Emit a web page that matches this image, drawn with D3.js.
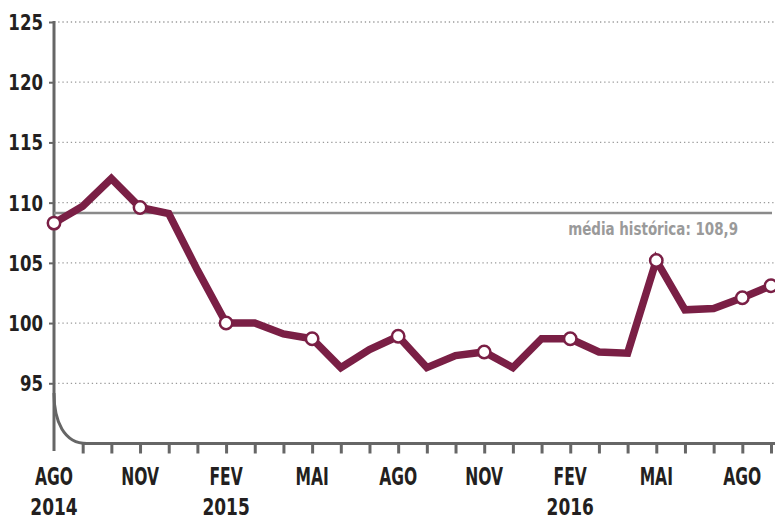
<!DOCTYPE html>
<html>
<head>
<meta charset="utf-8">
<script src="https://cdn.jsdelivr.net/npm/d3@7"></script>
<style>
  html, body { margin: 0; padding: 0; background: #fff; }
  svg { display: block; }
  text { font-family: "DejaVu Sans Condensed", "DejaVu Sans", sans-serif; font-weight: bold; }
</style>
</head>
<body>
<svg id="chart" width="775" height="520"></svg>
<script>
// ---- data ----
const months = ["AGO","SET","OUT","NOV","DEZ","JAN","FEV","MAR","ABR","MAI","JUN","JUL",
                "AGO","SET","OUT","NOV","DEZ","JAN","FEV","MAR","ABR","MAI","JUN","JUL","AGO","SET"];
const values = [108.3,109.7,112.0,109.6,109.1,104.4,100.0,100.0,99.1,98.7,96.3,97.8,
                98.9,96.3,97.3,97.6,96.3,98.7,98.7,97.6,97.5,105.2,101.1,101.2,102.1,103.1];
const yTicks = [95,100,105,110,115,120,125];
const labeledMonthIdx = [0,3,6,9,12,15,18,21,24];
const markerIdx = [0,3,6,9,12,15,18,21,24,25];
const yearIdx = [0,6,18];
const yearLabels = ["2014","2015","2016"];
const mediaLinePos = 109.15;
const mediaLabel = "média histórica: 108,9";

// ---- setup ----
const svg = d3.select("#chart");
const X0 = 54, X1 = 771;
const x = d3.scaleLinear().domain([0, months.length - 1]).range([X0, X1]);
const y = d3.scaleLinear().domain([90, 125]).range([443.5, 22]);

const axisColor = "#666666";
const textColor = "#231f20";
const lineColor = "#7a1f45";

// gridlines
svg.append("g").selectAll("line").data(yTicks).join("line")
  .attr("x1", X0).attr("x2", 775)
  .attr("y1", d => y(d)).attr("y2", d => y(d))
  .attr("stroke", "#9a9a9a").attr("stroke-width", 1.3)
  .attr("stroke-dasharray", "1.3,2.9");

// y axis via d3
const yAxis = d3.axisLeft(y).tickValues(yTicks).tickSize(5).tickPadding(0);
const gy = svg.append("g").attr("transform", `translate(${X0},0)`).call(yAxis);
gy.select(".domain").remove();
gy.selectAll(".tick line").attr("stroke", axisColor).attr("stroke-width", 2);
gy.selectAll(".tick text").attr("fill", textColor).style("font-size", "20.5px")
  .attr("x", 0).attr("dy", "0.36em")
  .attr("transform", "translate(-11,0) scale(0.9,1)");
// vertical axis line
svg.append("line").attr("x1", X0).attr("x2", X0).attr("y1", y(125) - 1).attr("y2", 451)
  .attr("stroke", axisColor).attr("stroke-width", 3);

// broken axis curve
const yb = 443.5;
svg.append("path")
  .attr("d", `M${X0},${y(94.2)} C${X0},${yb - 22} ${X0 + 10},${yb} ${X0 + 33},${yb}`)
  .attr("fill", "none").attr("stroke", axisColor).attr("stroke-width", 3);

// x axis via d3
const xAxis = d3.axisBottom(x).tickValues(d3.range(1, months.length)).tickSize(10).tickFormat("");
const gx = svg.append("g").attr("transform", `translate(0,${yb})`).call(xAxis);
gx.select(".domain").remove();
gx.selectAll(".tick line").attr("stroke", axisColor).attr("stroke-width", 3);
svg.append("line").attr("x1", X0 + 30).attr("x2", 775).attr("y1", yb).attr("y2", yb)
  .attr("stroke", axisColor).attr("stroke-width", 3);

// month labels
svg.append("g").selectAll("text").data(labeledMonthIdx).join("text")
  .attr("transform", d => `translate(${x(d)},485) scale(0.72,1)`)
  .attr("text-anchor", "middle").attr("fill", textColor)
  .style("font-size", "24px")
  .text(d => months[d]);
// year labels
svg.append("g").selectAll("text").data(yearIdx).join("text")
  .attr("transform", d => `translate(${x(d)},515) scale(0.84,1)`)
  .attr("text-anchor", "middle").attr("fill", textColor)
  .style("font-size", "22.5px")
  .text((d, i) => yearLabels[i]);

// média line
svg.append("line").attr("x1", X0).attr("x2", 772)
  .attr("y1", y(mediaLinePos)).attr("y2", y(mediaLinePos))
  .attr("stroke", "#8a8a8a").attr("stroke-width", 2.5);
svg.append("text").attr("transform", "translate(738,235) scale(0.88,1)").attr("text-anchor", "end")
  .attr("fill", "#9a9a9a").style("font-size", "17px").text(mediaLabel);

// series line
const line = d3.line().x((d, i) => x(i)).y(d => y(d));
svg.append("path").datum(values).attr("d", line)
  .attr("fill", "none").attr("stroke", lineColor).attr("stroke-width", 7.5)
  .attr("stroke-linejoin", "miter").attr("stroke-linecap", "butt");

// markers
svg.append("g").selectAll("circle").data(markerIdx).join("circle")
  .attr("cx", d => x(d)).attr("cy", d => y(values[d])).attr("r", 6.2)
  .attr("fill", "#fff").attr("stroke", lineColor).attr("stroke-width", 2.5);
</script>
</body>
</html>
